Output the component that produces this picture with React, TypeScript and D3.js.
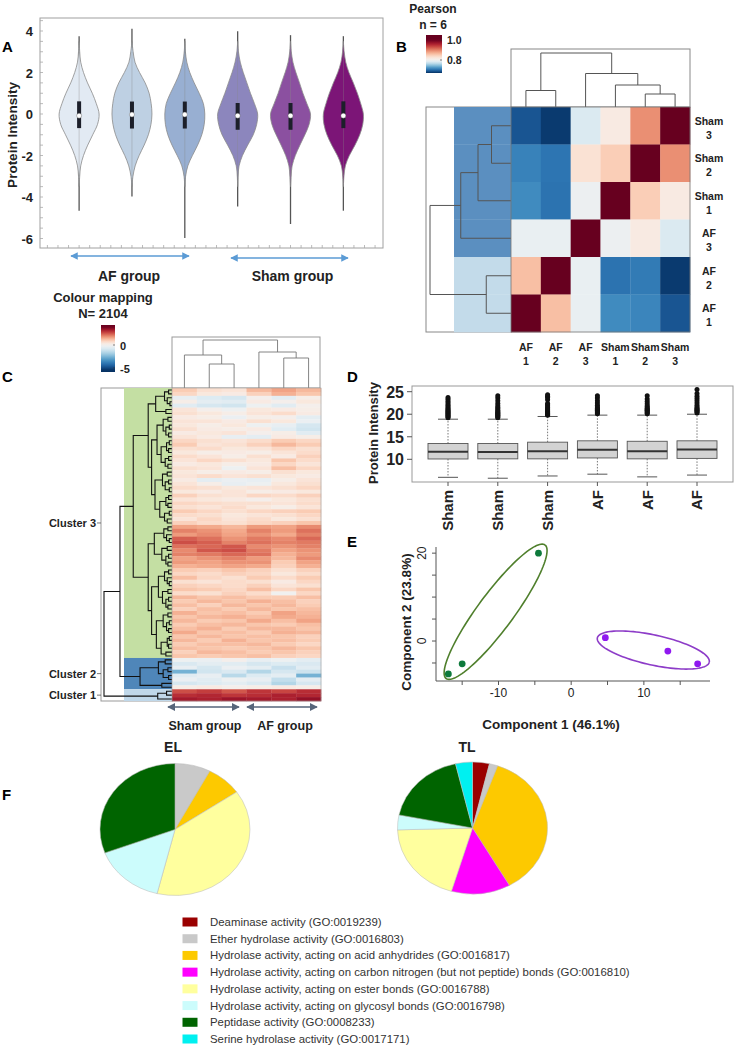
import React from 'react';
import * as d3 from 'd3';

const FONT = "'Liberation Sans', Arial, Helvetica, sans-serif";

// ---------------- Panel A : violins ----------------
const violinSamples = ['AF 1', 'AF 2', 'AF 3', 'Sham 1', 'Sham 2', 'Sham 3'];
const violinColors = ['#e2eaf3', '#bed0e3', '#98afd2', '#8c86bd', '#8b50a0', '#7c1577'];
const violinLevels = [-3.5, -3, -2.5, -2, -1.5, -1, -0.5, 0, 0.5, 1, 1.5, 2, 2.5, 3, 3.5];
const densityAF1 = [0, 0.03, 0.08, 0.22, 0.43, 0.68, 0.92, 1.0, 0.86, 0.66, 0.42, 0.22, 0.08, 0.03, 0];
const densityAF2 = [0, 0.05, 0.16, 0.36, 0.61, 0.82, 0.95, 1.0, 0.96, 0.86, 0.66, 0.38, 0.15, 0.06, 0];
const densityAF3 = [0, 0.04, 0.15, 0.38, 0.64, 0.85, 0.97, 1.0, 0.93, 0.72, 0.47, 0.25, 0.1, 0.03, 0];
const densitySham1 = [0, 0.02, 0.07, 0.24, 0.5, 0.78, 0.95, 1.0, 0.84, 0.64, 0.46, 0.28, 0.13, 0.04, 0];
const densitySham2 = [0, 0.03, 0.08, 0.24, 0.47, 0.72, 0.93, 1.0, 0.82, 0.62, 0.45, 0.27, 0.12, 0.04, 0];
const densitySham3 = [0, 0.03, 0.1, 0.3, 0.58, 0.82, 0.97, 1.0, 0.87, 0.7, 0.5, 0.28, 0.12, 0.04, 0];
const violinMin = [-4.66, -3.98, -5.98, -4.46, -5.3, -4.66];
const violinMax = [3.75, 4.11, 3.63, 3.99, 3.8, 3.75];
const violinQ1 = [-0.68, -0.7, -0.7, -0.76, -0.76, -0.68];
const violinQ3 = [0.61, 0.6, 0.6, 0.53, 0.53, 0.61];
const violinMedian = [-0.08, -0.03, -0.03, -0.08, -0.08, -0.08];
const violinYTicks = [4, 2, 0, -2, -4, -6];

// ---------------- Panel B : Pearson heatmap ----------------
const pearsonCols = ['AF 1', 'AF 2', 'AF 3', 'Sham 1', 'Sham 2', 'Sham 3'];
const pearsonRows = ['Sham 3', 'Sham 2', 'Sham 1', 'AF 3', 'AF 2', 'AF 1'];
const rowSham3 = [0.688, 0.675, 0.782, 0.816, 0.892, 1.0];
const rowSham2 = [0.712, 0.705, 0.828, 0.848, 1.0, 0.892];
const rowSham1 = [0.717, 0.704, 0.794, 1.0, 0.848, 0.816];
const rowAF3 = [0.792, 0.792, 1.0, 0.794, 0.816, 0.782];
const rowAF2 = [0.86, 1.0, 0.792, 0.704, 0.708, 0.675];
const rowAF1 = [1.0, 0.86, 0.792, 0.717, 0.714, 0.688];
const pearsonRowCluster = [0, 0, 0, 0, 1, 1];
const pearsonClusterColors = ['#5b8fc0', '#c3dbea'];
const pearsonTree = [0.54, [0.165, 'AF 1', 'AF 2'], [0.335, 'AF 3', [0.22, 'Sham 1', [0.13, 'Sham 2', 'Sham 3']]]];
const pearsonLegendTicks = [1.0, 0.8];

// ---------------- Panel C : cluster heatmap ----------------
const heatCols = ['Sham 1', 'Sham 2', 'Sham 3', 'AF 1', 'AF 2', 'AF 3'];
const cluster3Rows = [
  [1.0, 0.6, 0.5, 1.3, 1.6, 1.3], [0.8, 0.4, 0.3, 0.9, 1.4, 1.1], [-0.4, -0.7, -0.9, 0.1, -0.5, 0.2],
  [0.2, -0.5, -0.6, 0.3, 0.1, 0.4], [-0.6, -0.9, -1.0, -0.2, -0.6, 0.1], [0.5, 0.1, -0.2, 0.4, 0.3, 0.2],
  [0.6, 0.4, 0.2, 0.5, 0.7, 0.3], [0.3, 0.2, -0.3, 0.2, 0.1, -0.5], [0.5, 0.5, 0.3, 0.6, 0.4, -0.3],
  [0.4, 0.2, 0.4, -0.2, -0.4, -0.9], [0.6, 0.3, 0.2, 0.3, -0.6, -1.0], [0.3, 0.4, 0.5, 0.1, 0.2, -0.6],
  [0.5, 0.3, -0.4, -0.5, 0.3, 0.2], [0.8, 0.6, 0.5, 0.7, 1.0, 0.8], [1.0, 0.5, 0.6, 0.9, 1.3, 1.0],
  [0.6, 0.7, 0.4, 0.5, 0.8, 0.6], [0.4, 0.2, 0.3, 0.2, 0.5, 0.7], [0.7, 0.5, 0.2, 0.6, 0.3, 0.9],
  [0.5, 0.8, 0.6, 0.4, 1.1, 0.7], [0.3, 0.4, 0.2, 0.3, 0.8, 0.5], [0.6, 0.5, -0.2, 0.5, 1.2, 0.8],
  [0.4, 0.2, 0.3, 0.2, 0.6, 0.4], [0.5, 0.7, 0.5, 0.6, 0.4, 0.3], [0.3, -0.5, -0.3, -0.4, 0.2, 0.5],
  [0.5, 0.2, -0.4, -0.2, 0.4, 0.6], [0.7, 0.6, 0.4, 0.5, 0.6, 0.8], [0.4, 0.3, 0.5, 0.2, 0.3, 0.4],
  [0.9, 0.6, 0.5, 0.8, 0.7, 0.9], [0.5, 0.4, 0.3, 0.1, 0.4, 0.6], [0.8, 0.7, 0.6, 0.6, 0.5, 0.7],
  [0.6, 0.5, 0.7, 0.4, 0.2, 0.5], [1.0, 0.8, 0.6, 0.8, 0.9, 1.0], [0.7, 0.6, 0.4, 0.5, 0.6, 0.8],
  [0.5, 0.8, 0.5, 0.7, 0.4, 0.6], [0.9, 0.7, 0.6, 0.8, 0.9, 1.1],
  [1.6, 1.5, 1.3, 1.7, 1.6, 1.9], [2.0, 1.8, 1.5, 2.0, 1.7, 2.2], [1.7, 1.9, 1.6, 1.8, 1.5, 2.0],
  [2.4, 2.2, 1.8, 2.1, 1.9, 2.3], [2.6, 2.4, 2.0, 2.2, 2.0, 2.1], [2.2, 2.3, 2.5, 1.9, 1.8, 2.0],
  [1.9, 2.5, 2.6, 2.1, 1.6, 1.8], [2.0, 2.1, 2.3, 2.2, 1.4, 1.7], [1.6, 1.8, 2.0, 1.7, 1.3, 1.9],
  [1.7, 1.6, 1.8, 1.8, 1.0, 1.6], [1.4, 1.5, 1.6, 1.5, 0.9, 1.4],
  [1.0, 0.9, 1.1, 0.9, 0.6, 0.9], [0.8, 0.7, 0.9, 0.8, 0.4, 0.7], [1.2, 0.8, 0.6, 1.0, 0.7, 1.0],
  [0.6, 0.5, 0.7, 0.6, 0.3, 0.8], [0.9, 0.8, 0.7, 0.9, 0.5, 0.6], [1.1, 1.0, 0.8, 1.2, 0.8, 1.1],
  [0.7, 0.6, 0.9, 0.7, -0.1, 0.8], [1.3, 1.1, 1.2, 1.0, 1.0, 1.2], [1.0, 1.3, 1.1, 1.4, 1.2, 0.9],
  [1.2, 0.9, 1.3, 1.1, 1.3, 1.0], [0.9, 1.2, 1.0, 1.3, 1.1, 1.2], [1.4, 1.1, 1.2, 1.0, 1.6, 1.3],
  [1.1, 1.3, 1.4, 1.2, 1.5, 1.4], [1.3, 1.0, 1.1, 1.5, 1.2, 1.6], [1.0, 1.2, 1.3, 1.1, 1.0, 1.2],
  [1.2, 1.4, 1.0, 1.3, 1.3, 1.1], [1.5, 1.1, 1.2, 1.0, 1.4, 1.3], [1.1, 1.3, 1.1, 1.2, 1.1, 0.9],
  [1.3, 1.0, 1.4, 1.1, 1.2, 1.0], [1.0, 1.2, 1.2, 1.3, 1.0, 0.8], [1.2, 1.1, 1.0, 1.1, 1.3, 1.1],
  [0.9, 1.3, 1.2, 1.0, 1.1, 0.9], [1.1, 1.0, 1.1, 1.2, 0.9, 0.8],
];
const cluster2Rows = [
  [-0.2, -0.3, 0.1, -0.4, -0.2, -0.5], [-0.8, -0.5, -0.6, -0.9, -0.7, -0.8], [-0.4, -0.9, -0.3, -0.5, -1.2, -0.6],
  [-2.6, -1.0, -0.8, -1.6, -0.9, -1.1], [-0.6, -0.4, -1.5, -0.7, -0.5, -2.6], [-0.3, -0.6, -0.2, -0.4, -1.3, -0.5],
  [-0.9, -0.7, -0.5, -0.8, -1.6, -0.9], [0.2, 0.3, 0.1, 0.2, 0.3, 0.2],
];
const cluster1Rows = [
  [2.6, 2.8, 2.5, 2.9, 2.7, 3.0], [3.0, 3.1, 2.9, 3.0, 3.2, 3.1], [3.3, 3.2, 3.4, 3.3, 3.2, 3.5],
];
const clusterNames = ['Cluster 3', 'Cluster 2', 'Cluster 1'];
const clusterColors = ['#c4dfa3', '#4f86b9', '#c0d8ea'];
const colourLegendTicks = [0, -5];
const treeA1 = [2.4, [1.1, [0.5, 0, 1], [0.7, 2, [0.3, 3, 4]]], [0.9, 5, 6]];
const treeA2a = [2.2, [1.3, [0.6, 7, 8], [0.9, [0.4, 9, 10], [0.5, 11, 12]]], [1.6, [0.8, [0.4, 13, 14], [0.5, 15, 16]], [1.0, [0.5, 17, 18], [0.6, 19, 20]]]];
const treeA2b = [2.5, [1.4, [0.7, 21, 22], [1.0, [0.5, 23, 24], [0.4, 25, 26]]], [1.8, [0.9, [0.5, 27, 28], [0.6, 29, 30]], [1.1, [0.4, 31, 32], [0.7, 33, 34]]]];
const treeB1 = [2.6, [1.2, [0.6, 35, 36], [0.8, 37, [0.4, 38, 39]]], [1.5, [0.7, 40, 41], [0.9, [0.5, 42, 43], [0.6, 44, 45]]]];
const treeB2a = [2.0, [1.1, [0.5, 46, 47], [0.7, 48, [0.4, 49, 50]]], [1.4, [0.6, 51, 52], [0.9, [0.5, 53, 54], [0.6, 55, 56]]]];
const treeB2b = [2.3, [1.3, [0.6, 57, 58], [0.8, [0.4, 59, 60], [0.5, 61, 62]]], [1.6, [0.7, [0.4, 63, 64], [0.5, 65, 66]], [0.9, 67, 68]]];
const treeCluster3 = [5.7, [3.5, treeA1, [3.0, treeA2a, treeA2b]], [3.5, treeB1, [3.0, treeB2a, treeB2b]]];
const treeCluster2 = [4.7, [2.0, [1.0, 69, 70], [1.3, [0.6, 71, 72], [0.5, 73, 74]]], [1.5, 75, 76]];
const treeCluster1 = [2.1, [0.8, 77, 78], 79];
const rowTree = [10, [7.65, treeCluster3, treeCluster2], treeCluster1];
const colTree = [48, [33, 'Sham 1', [24, 'Sham 2', 'Sham 3']], [36, 'AF 1', [30, 'AF 2', 'AF 3']]];

// ---------------- Panel D : boxplots ----------------
const boxLabels = ['Sham', 'Sham', 'Sham', 'AF', 'AF', 'AF'];
const boxQ1 = [10.07, 10.1, 10.1, 10.3, 10.1, 10.2];
const boxMedian = [11.7, 11.6, 11.8, 12.1, 11.8, 12.2];
const boxQ3 = [13.5, 13.5, 13.8, 14.1, 14.0, 14.1];
const boxLow = [6.0, 5.8, 6.3, 6.7, 6.1, 6.5];
const boxHigh = [18.9, 18.9, 19.5, 19.8, 19.8, 20.0];
const outliers1 = [19.2, 19.4, 19.6, 19.8, 20.0, 20.2, 20.4, 20.6, 20.8, 21.0, 21.2, 21.5, 21.8, 22.1, 22.5, 22.9, 23.3, 23.7];
const outliers2 = [19.2, 19.4, 19.6, 19.8, 20.0, 20.2, 20.4, 20.6, 20.9, 21.2, 21.5, 21.9, 22.4, 23.0, 23.6, 24.1];
const outliers3 = [19.8, 20.0, 20.2, 20.4, 20.6, 20.8, 21.0, 21.2, 21.5, 21.8, 22.1, 22.4, 23.2, 23.7, 24.0, 24.3];
const outliers4 = [20.1, 20.3, 20.5, 20.7, 20.9, 21.1, 21.3, 21.6, 22.0, 22.5, 23.0, 23.6, 24.1];
const outliers5 = [20.1, 20.3, 20.5, 20.7, 20.9, 21.1, 21.3, 21.6, 21.9, 22.3, 22.8, 23.4, 24.1];
const outliers6 = [20.3, 20.5, 20.7, 20.9, 21.1, 21.3, 21.6, 22.0, 22.5, 23.0, 23.5, 24.0, 24.6, 25.5];
const boxYTicks = [10, 15, 20, 25];

// ---------------- Panel E : PCA ----------------
const pcaGreenX = [-4.5, -15.0, -16.9];
const pcaGreenY = [20.0, -5.2, -7.5];
const pcaPurpleX = [4.7, 13.3, 17.4];
const pcaPurpleY = [0.75, -2.3, -5.2];
const ellipseGreen = [-10.4, 6.66, 6.8, 15.2, 1.98, -2.43];
const ellipsePurple = [11.3, -2.05, 7.7, -2.77, -0.44, -3.34];
const pcaXTicks = [-15, -10, -5, 0, 5, 10, 15];
const pcaXLabels = [-10, 0, 10];
const pcaYTicks = [-5, 0, 5, 10, 15, 20];
const pcaYLabels = [0, 20];

// ---------------- Panel F : pies ----------------
const goTerms = [
  'Deaminase activity (GO:0019239)',
  'Ether hydrolase activity (GO:0016803)',
  'Hydrolase activity, acting on acid anhydrides (GO:0016817)',
  'Hydrolase activity, acting on carbon nitrogen (but not peptide) bonds (GO:0016810)',
  'Hydrolase activity, acting on ester bonds (GO:0016788)',
  'Hydrolase activity, acting on glycosyl bonds (GO:0016798)',
  'Peptidase activity (GO:0008233)',
  'Serine hydrolase activity (GO:0017171)',
];
const goColors = ['#9a0000', '#c9c9c9', '#fdc900', '#ff00ff', '#ffff9e', '#ccfcfc', '#006400', '#00f0f0'];
const countsEL = [0, 1, 1, 0, 5, 2, 4, 0];
const countsTL = [2, 1, 20, 7, 11, 2, 10, 2];

function dendroPaths(tree: any, leafPos: (l: any) => number, hPos: (h: number) => number, vertical: boolean) {
  const segs: string[] = [];
  const rec = (n: any): { p: number; h: number } => {
    if (!Array.isArray(n)) return { p: leafPos(n), h: 0 };
    const [h, a, b] = n;
    const A = rec(a);
    const B = rec(b);
    const hh = hPos(h);
    if (vertical) segs.push(`M${A.p},${hPos(A.h)}V${hh}H${B.p}V${hPos(B.h)}`);
    else segs.push(`M${hPos(A.h)},${A.p}H${hh}V${B.p}H${hPos(B.h)}`);
    return { p: (A.p + B.p) / 2, h };
  };
  rec(tree);
  return segs;
}

function ellipsePath(e: number[], sx: any, sy: any) {
  const [cx, cy, ux, uy, vx, vy] = e;
  const ts = d3.range(0, Math.PI * 2 + 0.01, Math.PI / 60);
  const line = d3.line<number>()
    .x((t) => sx(cx + ux * Math.cos(t) + vx * Math.sin(t)))
    .y((t) => sy(cy + uy * Math.cos(t) + vy * Math.sin(t)));
  return line(ts) || '';
}

const bold = { fontWeight: 700 } as const;

export default function App() {
  // ---- A ----
  const ax = d3.scaleLinear().domain([0.26, 6.75]).range([40, 383]);
  const ay = d3.scaleLinear().domain([-6, 4]).range([238.5, 31]);
  const aw = d3.scaleLinear().domain([0, 1]).range([0, 20]);
  const densities = [densityAF1, densityAF2, densityAF3, densitySham1, densitySham2, densitySham3];

  // ---- B ----
  const bx = d3.scaleBand<string>().domain(pearsonCols).range([511, 690]);
  const by = d3.scaleBand<string>().domain(pearsonRows).range([107, 332]);
  const pearsonMatrix = [rowSham3, rowSham2, rowSham1, rowAF3, rowAF2, rowAF1];
  const pColor = d3.scaleDiverging([0.67, 0.8, 1.0], (t: number) => d3.interpolateRdBu(1 - t));
  const bTopH = d3.scaleLinear().domain([0, 0.58]).range([107, 49]);
  const bLeftH = d3.scaleLinear().domain([0, 0.56]).range([511, 427]);
  const bLegendY = d3.scaleLinear().domain([0.8, 1.0]).range([60, 40]);

  // ---- C ----
  const heatRows = [...cluster3Rows, ...cluster2Rows, ...cluster1Rows];
  const clusterSizes = [cluster3Rows.length, cluster2Rows.length, cluster1Rows.length];
  const cx = d3.scaleBand<string>().domain(heatCols).range([172, 321]);
  const cy = d3.scaleBand<number>().domain(d3.range(heatRows.length)).range([388, 701]);
  const cColor = d3.scaleDiverging([-5.5, 0, 4], (t: number) => d3.interpolateRdBu(1 - t));
  const cLeftH = d3.scaleLinear().domain([0, 10]).range([172, 104]);
  const cTopH = d3.scaleLinear().domain([0, 51]).range([388, 337]);
  const cLegendY = d3.scaleLinear().domain([-5, 0]).range([368, 345]);
  let acc = 0;
  const clusterExtents = clusterSizes.map((n) => {
    const s = acc;
    acc += n;
    return [cy(s)!, cy(acc - 1)! + cy.bandwidth()];
  });

  // ---- D ----
  const dx = d3.scaleLinear().domain([0, 5]).range([448, 697]);
  const dy = d3.scaleLinear().domain([10, 25]).range([459.3, 391.7]);
  const outlierSets = [outliers1, outliers2, outliers3, outliers4, outliers5, outliers6];

  // ---- E ----
  const ex = d3.scaleLinear().domain([-18.6, 19.1]).range([436, 710]);
  const ey = d3.scaleLinear().domain([-9.1, 21.4]).range([681, 547]);

  // ---- F ----
  const pie = d3.pie<number>().sort(null).value((d) => d);
  const arc = d3.arc<d3.PieArcDatum<number>>().innerRadius(0).outerRadius(66);
  const pies = [
    { title: 'EL', counts: countsEL, x: 175, y: 829.5, tx: 173 },
    { title: 'TL', counts: countsTL, x: 472.5, y: 828, tx: 467 },
  ];
  const legendY = d3.scalePoint<number>().domain(d3.range(goTerms.length)).range([922, 1039]);

  const gradStops = d3.range(0, 1.0001, 0.05);

  return (
    <svg width={736} height={1048} style={{ position: 'absolute', left: 0, top: 0, background: '#fff' }} fontFamily={FONT}>
      <defs>
        <marker id="arrA" viewBox="0 0 10 10" refX="9" refY="5" markerWidth="5" markerHeight="5" orient="auto-start-reverse">
          <path d="M0,0L10,5L0,10z" fill="#5b9bd5" />
        </marker>
        <marker id="arrC" viewBox="0 0 10 10" refX="9" refY="5" markerWidth="5.5" markerHeight="5.5" orient="auto-start-reverse">
          <path d="M0,0L10,5L0,10z" fill="#56657a" />
        </marker>
        <linearGradient id="gradB" x1="0" y1="0" x2="0" y2="1">
          {gradStops.map((t, i) => (
            <stop key={i} offset={t} stopColor={pColor(bLegendY.invert(35 + t * 38))} />
          ))}
        </linearGradient>
        <linearGradient id="gradC" x1="0" y1="0" x2="0" y2="1">
          {gradStops.map((t, i) => (
            <stop key={i} offset={t} stopColor={cColor(cLegendY.invert(325 + t * 47))} />
          ))}
        </linearGradient>
      </defs>

      {/* ================= Panel A ================= */}
      <text x={2} y={52} fontSize={15} {...bold}>A</text>
      <rect x={40} y={18} width={343} height={230} fill="none" stroke="#a0a0a0" strokeWidth={1} />
      {d3.range(-6, 4.51, 0.5).map((v) => (
        <line key={'ayt' + v} x1={40} x2={43} y1={ay(v)} y2={ay(v)} stroke="#aaa" strokeWidth={0.8} />
      ))}
      {d3.range(0.4, 6.7, 0.2).map((v, i) => (
        <line key={'axt' + i} x1={ax(v)} x2={ax(v)} y1={248} y2={245} stroke="#aaa" strokeWidth={0.8} />
      ))}
      {violinYTicks.map((v) => (
        <text key={'ayl' + v} x={33} y={ay(v) + 5} fontSize={13} {...bold} textAnchor="end" fill="#222">{v}</text>
      ))}
      <text transform="translate(17,135) rotate(-90)" fontSize={13.5} {...bold} textAnchor="middle" fill="#222">Protein Intensity</text>
      {violinSamples.map((s, i) => {
        const c = ax(i + 1);
        const pts = violinLevels.map((v, j) => ({ v, d: densities[i][j] }));
        const area = d3.area<{ v: number; d: number }>()
          .curve(d3.curveCatmullRom)
          .y((p) => ay(p.v))
          .x0((p) => c - aw(p.d))
          .x1((p) => c + aw(p.d));
        return (
          <g key={s}>
            <line x1={c} x2={c} y1={ay(violinMax[i])} y2={ay(violinMin[i])} stroke="#555" strokeWidth={1.3} />
            <path d={area(pts) || ''} fill={violinColors[i]} stroke="#8a8a8a" strokeWidth={0.8} />
            <line x1={c} x2={c} y1={ay(3)} y2={ay(-3)} stroke="#888" strokeWidth={0.5} opacity={0.7} />
            <rect x={c - 2} y={ay(violinQ3[i])} width={4} height={ay(violinQ1[i]) - ay(violinQ3[i])} fill="#1c1f2a" />
            <circle cx={c} cy={ay(violinMedian[i])} r={2.5} fill="#fff" stroke="#555" strokeWidth={0.4} />
          </g>
        );
      })}
      <line x1={71} x2={189} y1={256} y2={256} stroke="#5b9bd5" strokeWidth={1.5} markerStart="url(#arrA)" markerEnd="url(#arrA)" />
      <line x1={231} x2={348} y1={258} y2={258} stroke="#5b9bd5" strokeWidth={1.5} markerStart="url(#arrA)" markerEnd="url(#arrA)" />
      <text x={129} y={281} fontSize={14} {...bold} textAnchor="middle" fill="#222">AF group</text>
      <text x={292.5} y={281} fontSize={14} {...bold} textAnchor="middle" fill="#222">Sham group</text>

      {/* ================= Panel B ================= */}
      <text x={396} y={52} fontSize={15} {...bold}>B</text>
      <text x={433} y={13} fontSize={12} {...bold} textAnchor="middle" fill="#222">Pearson</text>
      <text x={433} y={29} fontSize={12} {...bold} textAnchor="middle" fill="#222">n = 6</text>
      <rect x={426} y={35} width={16} height={38} fill="url(#gradB)" />
      {pearsonLegendTicks.map((v) => (
        <g key={'blt' + v}>
          <line x1={440} x2={442} y1={bLegendY(v)} y2={bLegendY(v)} stroke="#333" strokeWidth={0.6} />
          <text x={447} y={bLegendY(v) + 4} fontSize={10.5} {...bold} fill="#222">{v.toFixed(1)}</text>
        </g>
      ))}
      <rect x={426} y={107} width={85} height={225} fill="#fff" stroke="#888" strokeWidth={1} />
      {pearsonRows.map((r, i) => (
        <rect key={'bc' + r} x={454} y={by(r)!} width={57} height={by.bandwidth() + 0.3} fill={pearsonClusterColors[pearsonRowCluster[i]]} />
      ))}
      {dendroPaths(pearsonTree, (l) => by(l)! + by.bandwidth() / 2, (h) => bLeftH(h), false).map((d, i) => (
        <path key={'bld' + i} d={d} fill="none" stroke="#555" strokeWidth={1} />
      ))}
      <rect x={511} y={49} width={179} height={58} fill="none" stroke="#888" strokeWidth={1} />
      {dendroPaths(pearsonTree, (l) => bx(l)! + bx.bandwidth() / 2, (h) => bTopH(h), true).map((d, i) => (
        <path key={'btd' + i} d={d} fill="none" stroke="#555" strokeWidth={1} />
      ))}
      {pearsonRows.map((r, i) =>
        pearsonCols.map((c, j) => (
          <rect key={'bh' + i + j} x={bx(c)!} y={by(r)!} width={bx.bandwidth() + 0.3} height={by.bandwidth() + 0.3} fill={pColor(pearsonMatrix[i][j])} />
        ))
      )}
      <rect x={511} y={107} width={179} height={225} fill="none" stroke="#777" strokeWidth={0.8} />
      {pearsonRows.map((r) => {
        const [a, b] = r.split(' ');
        const yc = by(r)! + by.bandwidth() / 2;
        return (
          <g key={'brl' + r}>
            <text x={709} y={yc - 1} fontSize={10.5} {...bold} textAnchor="middle" fill="#222">{a}</text>
            <text x={709} y={yc + 13} fontSize={10.5} {...bold} textAnchor="middle" fill="#222">{b}</text>
          </g>
        );
      })}
      {pearsonCols.map((c) => {
        const [a, b] = c.split(' ');
        const xc = bx(c)! + bx.bandwidth() / 2;
        return (
          <g key={'bcl' + c}>
            <text x={xc} y={351} fontSize={10.5} {...bold} textAnchor="middle" fill="#222">{a}</text>
            <text x={xc} y={365} fontSize={10.5} {...bold} textAnchor="middle" fill="#222">{b}</text>
          </g>
        );
      })}

      {/* ================= Panel C ================= */}
      <text x={2} y={382} fontSize={15} {...bold}>C</text>
      <text x={103} y={302} fontSize={13} {...bold} textAnchor="middle" fill="#222">Colour mapping</text>
      <text x={103} y={318} fontSize={13} {...bold} textAnchor="middle" fill="#222">N= 2104</text>
      <rect x={101} y={325} width={14} height={47} fill="url(#gradC)" />
      {colourLegendTicks.map((v) => (
        <g key={'clt' + v}>
          <line x1={113} x2={115} y1={cLegendY(v)} y2={cLegendY(v)} stroke="#333" strokeWidth={0.6} />
          <text x={120} y={cLegendY(v) + 4.5} fontSize={11} {...bold} fill="#222">{v}</text>
        </g>
      ))}
      <rect x={172} y={337} width={148} height={51} fill="none" stroke="#999" strokeWidth={1} />
      {dendroPaths(colTree, (l) => cx(l)! + cx.bandwidth() / 2, (h) => cTopH(h), true).map((d, i) => (
        <path key={'ctd' + i} d={d} fill="none" stroke="#777" strokeWidth={0.9} />
      ))}
      <rect x={101} y={388} width={71} height={313} fill="#fff" stroke="#999" strokeWidth={1} />
      {clusterExtents.map(([y0, y1], k) => (
        <rect key={'cce' + k} x={124} y={y0} width={48} height={y1 - y0} fill={clusterColors[k]} />
      ))}
      {dendroPaths(rowTree, (l) => cy(l)! + cy.bandwidth() / 2, (h) => cLeftH(h), false).map((d, i) => (
        <path key={'cld' + i} d={d} fill="none" stroke="#111" strokeWidth={1.1} />
      ))}
      {clusterExtents.map(([y0, y1], k) => (
        <g key={'ccl' + k}>
          <line x1={97} x2={101} y1={(y0 + y1) / 2} y2={(y0 + y1) / 2} stroke="#555" strokeWidth={0.8} />
          <text x={96} y={(y0 + y1) / 2 + 4} fontSize={11} {...bold} textAnchor="end" fill="#222">{clusterNames[k]}</text>
        </g>
      ))}
      {heatRows.map((row, i) =>
        row.map((v, j) => (
          <rect key={'ch' + i + '_' + j} x={cx(heatCols[j])!} y={cy(i)!} width={cx.bandwidth() + 0.3} height={cy.bandwidth() + 0.3} fill={cColor(v)} />
        ))
      )}
      <rect x={172} y={388} width={149} height={313} fill="none" stroke="#999" strokeWidth={0.6} />
      <line x1={168} x2={239} y1={707} y2={707} stroke="#56657a" strokeWidth={1.5} markerStart="url(#arrC)" markerEnd="url(#arrC)" />
      <line x1={247} x2={317} y1={707} y2={707} stroke="#56657a" strokeWidth={1.5} markerStart="url(#arrC)" markerEnd="url(#arrC)" />
      <text x={205} y={730} fontSize={12.5} {...bold} textAnchor="middle" fill="#222">Sham group</text>
      <text x={285} y={730} fontSize={12.5} {...bold} textAnchor="middle" fill="#222">AF group</text>

      {/* ================= Panel D ================= */}
      <text x={347} y={382} fontSize={15} {...bold}>D</text>
      <rect x={412} y={386} width={321} height={96} fill="none" stroke="#999" strokeWidth={1} />
      {boxYTicks.map((v) => (
        <g key={'dyt' + v}>
          <line x1={407} x2={412} y1={dy(v)} y2={dy(v)} stroke="#555" />
          <text x={404} y={dy(v) + 6} fontSize={16} {...bold} textAnchor="end" fill="#222">{v}</text>
        </g>
      ))}
      <text transform="translate(378,433) rotate(-90)" fontSize={13} textAnchor="middle" fill="#222" fontWeight={600}>Protein Intensity</text>
      {boxLabels.map((lab, i) => {
        const c = dx(i);
        return (
          <g key={'db' + i}>
            <line x1={c} x2={c} y1={dy(boxQ3[i])} y2={dy(boxHigh[i])} stroke="#555" strokeWidth={0.8} strokeDasharray="1.5,1.5" />
            <line x1={c} x2={c} y1={dy(boxQ1[i])} y2={dy(boxLow[i])} stroke="#555" strokeWidth={0.8} strokeDasharray="1.5,1.5" />
            <line x1={c - 10} x2={c + 10} y1={dy(boxHigh[i])} y2={dy(boxHigh[i])} stroke="#555" strokeWidth={1} />
            <line x1={c - 10} x2={c + 10} y1={dy(boxLow[i])} y2={dy(boxLow[i])} stroke="#555" strokeWidth={1} />
            <rect x={c - 20} y={dy(boxQ3[i])} width={40} height={dy(boxQ1[i]) - dy(boxQ3[i])} fill="#d3d3d3" stroke="#555" strokeWidth={0.9} />
            <line x1={c - 20} x2={c + 20} y1={dy(boxMedian[i])} y2={dy(boxMedian[i])} stroke="#333" strokeWidth={2} />
            {outlierSets[i].map((o, k) => (
              <circle key={k} cx={c} cy={dy(o)} r={2.5} fill="#111" />
            ))}
            <line x1={c} x2={c} y1={482} y2={486} stroke="#555" />
            <text transform={`translate(${c},490) rotate(-90)`} dy="0.36em" fontSize={15} {...bold} textAnchor="end" fill="#222">{lab}</text>
          </g>
        );
      })}

      {/* ================= Panel E ================= */}
      <text x={347} y={547} fontSize={15} {...bold}>E</text>
      <line x1={436} x2={436} y1={547} y2={681} stroke="#555" strokeWidth={1} />
      <line x1={436} x2={710} y1={681} y2={681} stroke="#555" strokeWidth={1} />
      {pcaXTicks.map((v) => (
        <line key={'ext' + v} x1={ex(v)} x2={ex(v)} y1={681} y2={685} stroke="#555" />
      ))}
      {pcaXLabels.map((v) => (
        <text key={'exl' + v} x={ex(v)} y={697} fontSize={12} textAnchor="middle" fill="#222">{v}</text>
      ))}
      {pcaYTicks.map((v) => (
        <line key={'eyt' + v} x1={432} x2={436} y1={ey(v)} y2={ey(v)} stroke="#555" />
      ))}
      {pcaYLabels.map((v) => (
        <text key={'eyl' + v} transform={`translate(426,${ey(v)}) rotate(-90)`} fontSize={12} textAnchor="middle" fill="#222">{v}</text>
      ))}
      <text transform="translate(411,622) rotate(-90)" fontSize={13.5} {...bold} textAnchor="middle" fill="#222">Component 2 (23.8%)</text>
      <text x={551} y={729} fontSize={13.5} {...bold} textAnchor="middle" fill="#222">Component 1 (46.1%)</text>
      <path d={ellipsePath(ellipseGreen, ex, ey)} fill="none" stroke="#4f7f2c" strokeWidth={1.6} />
      <path d={ellipsePath(ellipsePurple, ex, ey)} fill="none" stroke="#8d3cc8" strokeWidth={1.6} />
      {pcaGreenX.map((v, i) => (
        <circle key={'eg' + i} cx={ex(v)} cy={ey(pcaGreenY[i])} r={3.4} fill="#0e7a3c" />
      ))}
      {pcaPurpleX.map((v, i) => (
        <circle key={'ep' + i} cx={ex(v)} cy={ey(pcaPurpleY[i])} r={3.4} fill="#9018f0" />
      ))}

      {/* ================= Panel F ================= */}
      <text x={2} y={800} fontSize={15} {...bold}>F</text>
      {pies.map((p) => (
        <g key={p.title}>
          <text x={p.tx} y={752} fontSize={14} {...bold} textAnchor="middle" fill="#222">{p.title}</text>
          <g transform={`translate(${p.x},${p.y}) scale(${75 / 66},1)`}>
            {pie(p.counts).map((s, i) =>
              s.value > 0 ? (
                <path key={i} d={arc(s) || ''} fill={goColors[i]} stroke="#bbb" strokeWidth={0.5} />
              ) : null
            )}
          </g>
        </g>
      ))}
      {goTerms.map((t, i) => (
        <g key={'lg' + i}>
          <rect x={182.5} y={legendY(i)! - 4.5} width={15} height={9} fill={goColors[i]} />
          <text x={210} y={legendY(i)! + 4} fontSize={11.4} fill="#333">{t}</text>
        </g>
      ))}
    </svg>
  );
}
